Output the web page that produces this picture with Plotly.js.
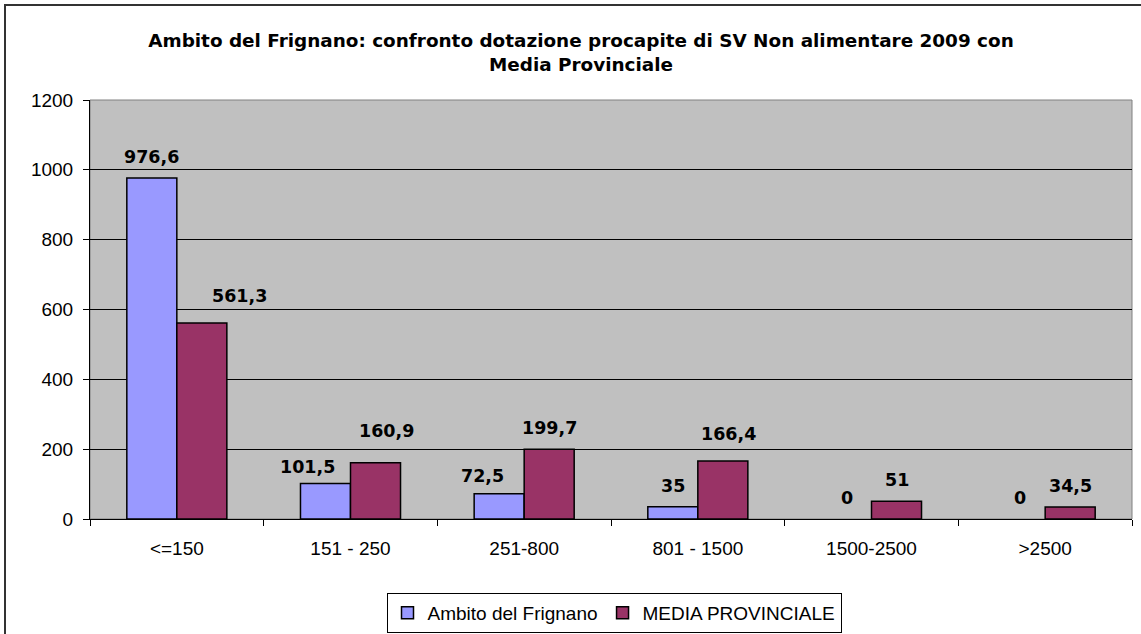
<!DOCTYPE html>
<html>
<head>
<meta charset="utf-8">
<script src="https://cdn.plot.ly/plotly-3.0.1.min.js"></script>
<style>html,body{margin:0;padding:0;background:#fff;}#chart{width:1141px;height:634px;}</style>
</head>
<body>
<div id="chart"></div>
<script>
const categories = ["<=150", "151 - 250", "251-800", "801 - 1500", "1500-2500", ">2500"];
const seriesNames = ["Ambito del Frignano", "MEDIA PROVINCIALE"];
const frignano = [976.6, 101.5, 72.5, 35, 0, 0];
const mediaProvinciale = [561.3, 160.9, 199.7, 166.4, 51, 34.5];
const yTicks = [0, 200, 400, 600, 800, 1000, 1200];

const colors = ["#9999FF", "#993366"];
const seriesValues = [frignano, mediaProvinciale];

// label nudges (pixels) to mimic the hand-placed labels of the original
const labelNudgeX = [[0, -18, -17, 0, 0, 0], [38, 11, 0, 6, 0, 0]];
const labelNudgeY = [[0, -4, -3, 0, 0, 0], [6, 11, 0, 6, 0, 0]];

const fmt = v => String(v).replace('.', ',');

const traces = seriesValues.map((vals, i) => ({
  type: 'bar',
  name: seriesNames[i],
  x: categories,
  y: vals,
  marker: {color: colors[i], line: {color: '#000', width: vals.map(v => v === 0 ? 0 : 1.5)}},
  hoverinfo: 'x+y'
}));

const annotations = [];
seriesValues.forEach((vals, i) => {
  vals.forEach((v, j) => {
    annotations.push({
      x: categories[j], y: v, xref: 'x', yref: 'y',
      text: fmt(v), showarrow: false,
      xshift: (i === 0 ? -25 : 25) + labelNudgeX[i][j],
      yshift: 9 + labelNudgeY[i][j], yanchor: 'bottom',
      font: {family: 'DejaVu Sans', size: 17.5, color: '#000', weight: 'bold'}
    });
  });
});

const layout = {
  width: 1141, height: 634,
  margin: {l: 90, r: 9, t: 100, b: 115, autoexpand: false},
  paper_bgcolor: '#fff',
  plot_bgcolor: '#C0C0C0',
  separators: ',.',
  title: {
    text: '<b>Ambito del Frignano: confronto dotazione procapite di SV Non alimentare 2009 con<br>Media Provinciale</b>',
    font: {family: 'DejaVu Sans', size: 18.4, color: '#000'},
    x: 581/1141, xanchor: 'center', xref: 'container',
    y: 1 - 47/634, yanchor: 'top', yref: 'container'
  },
  barmode: 'group',
  bargap: 0.424,
  bargroupgap: 0,
  xaxis: {
    type: 'category',
    showline: true, linecolor: '#000', linewidth: 1,
    ticks: 'outside', tickson: 'boundaries', ticklen: 6, tickcolor: '#000',
    tickfont: {family: 'Liberation Sans, Arial', size: 19, color: '#000'},
    ticklabelstandoff: 12,
    showgrid: false, zeroline: false, fixedrange: true
  },
  yaxis: {
    range: [0, 1200], tickvals: yTicks, ticktext: yTicks.map(String),
    showline: true, linecolor: '#000', linewidth: 1,
    ticks: 'outside', ticklen: 6, tickcolor: '#000',
    tickfont: {family: 'Liberation Sans, Arial', size: 19, color: '#000'},
    ticklabelstandoff: 6,
    showgrid: true, gridcolor: '#000', gridwidth: 1,
    zeroline: false, fixedrange: true
  },
  legend: {
    orientation: 'h', x: 614/1141, xanchor: 'center', xref: 'container',
    y: 1 - 593/634, yanchor: 'top', yref: 'container',
    bgcolor: '#fff', bordercolor: '#000', borderwidth: 1,
    font: {family: 'Liberation Sans, Arial', size: 19, color: '#000'},
    itemclick: false, itemdoubleclick: false
  },
  annotations: annotations,
  shapes: [
    {type: 'rect', xref: 'paper', yref: 'paper', x0: 0, x1: 1, y0: 0, y1: 1,
     line: {color: '#808080', width: 1}, layer: 'below'},
    {type: 'rect', xref: 'paper', yref: 'paper', x0: -85/1042, x1: 1.2, y0: -0.5, y1: 1 + 95/419,
     line: {color: '#333', width: 2}, fillcolor: 'rgba(0,0,0,0)'}
  ],
  showlegend: true
};

Plotly.newPlot('chart', traces, layout, {displayModeBar: false, staticPlot: true});
</script>
</body>
</html>
